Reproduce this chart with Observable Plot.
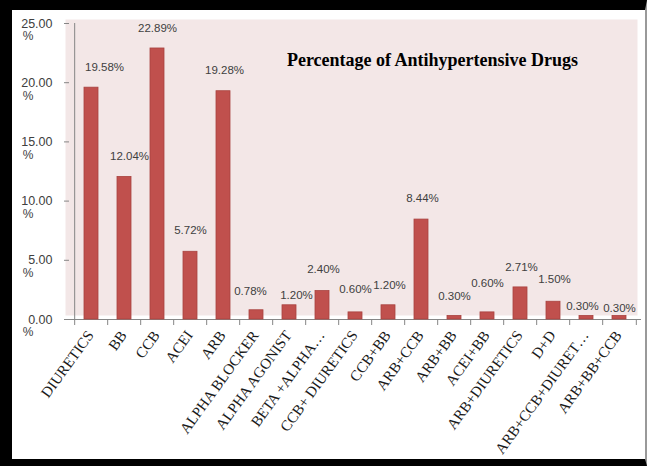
<!DOCTYPE html>
<html>
<head>
<meta charset="utf-8">
<script src="https://cdn.jsdelivr.net/npm/d3@7"></script>
<script src="https://cdn.jsdelivr.net/npm/@observablehq/plot@0.6"></script>
<style>
  html, body { margin: 0; padding: 0; background: #fff; }
  #box {
    width: 647px; height: 466px; box-sizing: border-box;
    border-style: solid; border-color: #000 #999 #000 #000;
    border-width: 10px 2px 7px 12px; background: #fff; overflow: hidden;
  }
  #box svg { overflow: visible; display: block; }
</style>
</head>
<body>
<div id="box"></div>
<script>
// ---- data ----
const categories = ["DIURETICS","BB","CCB","ACEI","ARB","ALPHA BLOCKER","ALPHA AGONIST","BETA +ALPHA\u2026","CCB+ DIURETICS","CCB+BB","ARB+CCB","ARB+BB","ACEI+BB","ARB+DIURETICS","D+D","ARB+CCB+DIURET\u2026","ARB+BB+CCB"];
const values = [19.58,12.04,22.89,5.72,19.28,0.78,1.20,2.40,0.60,1.20,8.44,0.30,0.60,2.71,1.50,0.30,0.30];
const yTicks = [0,5,10,15,20,25];
const title = "Percentage of Antihypertensive Drugs";

// ---- layout ----
const W = 633, H = 449, mL = 57, mR = 4, mT = 13, mB = 140;
const step = (W - mL - mR) / categories.length;
// manual label nudges [dx, dy] as placed in the source chart
const nudge = {
  "DIURETICS": [13, -20], "BB": [5, -21], "CCB": [0, -20], "ACEI": [0, -21], "ARB": [1, -21],
  "ALPHA BLOCKER": [-6, -19], "ALPHA AGONIST": [7, -10], "BETA +ALPHA\u2026": [1, -22],
  "CCB+ DIURETICS": [0, -23], "CCB+BB": [1, -20], "ARB+CCB": [1, -21], "ARB+BB": [0, -20],
  "ACEI+BB": [0, -29], "ARB+DIURETICS": [1, -20], "D+D": [1, -22],
  "ARB+CCB+DIURET\u2026": [-4, -10], "ARB+BB+CCB": [0, -8]
};

const data = categories.map((c, i) => ({cat: c, value: values[i]}));
const axisColor = "#868686";

const labelMarks = data.map(d => Plot.text([d], {
  x: "cat", y: "value", text: r => r.value.toFixed(2) + "%",
  dx: nudge[d.cat][0], dy: nudge[d.cat][1], lineAnchor: "middle",
  fontFamily: "Liberation Sans, Arial, sans-serif", fontSize: 11.5, fill: "#404040"
}));

const chart = Plot.plot({
  width: W, height: H,
  marginLeft: mL, marginRight: mR, marginTop: mT, marginBottom: mB,
  style: {fontFamily: "Liberation Sans, Arial, sans-serif", background: "transparent"},
  x: {domain: categories, paddingInner: 0.58, paddingOuter: 0.29, axis: null},
  y: {domain: [0, 25], axis: null},
  marks: [
    Plot.frame({fill: "#f3e7e7", stroke: "none", dx: -4, dy: -4}),
    // y axis: ticks + numbers + "%" line
    Plot.axisY({ticks: yTicks, tickSize: 5, tickPadding: 12, stroke: axisColor, label: null,
      tickFormat: d => d.toFixed(2), fontSize: 12.5, fill: "#404040", textAnchor: "end"}),
    Plot.axisY({ticks: yTicks, tickSize: 0, tickPadding: 36, dy: 13, label: null,
      tickFormat: () => "%", fontSize: 12, fill: "#404040", textAnchor: "end"}),
    // vertical axis line
    Plot.ruleX([categories[0]], {x: d => d, y1: 0, y2: 25, dx: -step / 2, stroke: axisColor}),
    // horizontal axis line
    Plot.ruleY([0], {stroke: axisColor}),
    // x ticks at band boundaries
    Plot.ruleX(categories, {x: d => d, y1: 0, y2: 0, insetTop: 6, dx: -step / 2, stroke: axisColor}),
    Plot.ruleX([categories[categories.length - 1]], {x: d => d, y1: 0, y2: 0, insetTop: 6, dx: step / 2, stroke: axisColor}),
    // bars
    Plot.barY(data, {x: "cat", y: "value", fill: "#c0504d", stroke: "#a8423f", strokeWidth: 0.8}),
    ...labelMarks,
    // category labels
    Plot.text(categories, {x: d => d, frameAnchor: "bottom", dx: -1, dy: 13, rotate: -54,
      textAnchor: "end", lineAnchor: "middle",
      fontFamily: "Liberation Serif, Times New Roman, serif", fontSize: 15, fill: "#1a1a1a"}),
    // title inside plot area
    Plot.text([title], {frameAnchor: "top", dx: 77, dy: 37, lineAnchor: "middle",
      fontFamily: "Liberation Serif, Times New Roman, serif", fontWeight: "bold", fontSize: 18, fill: "#000"})
  ]
});
document.getElementById("box").appendChild(chart);
</script>
</body>
</html>
